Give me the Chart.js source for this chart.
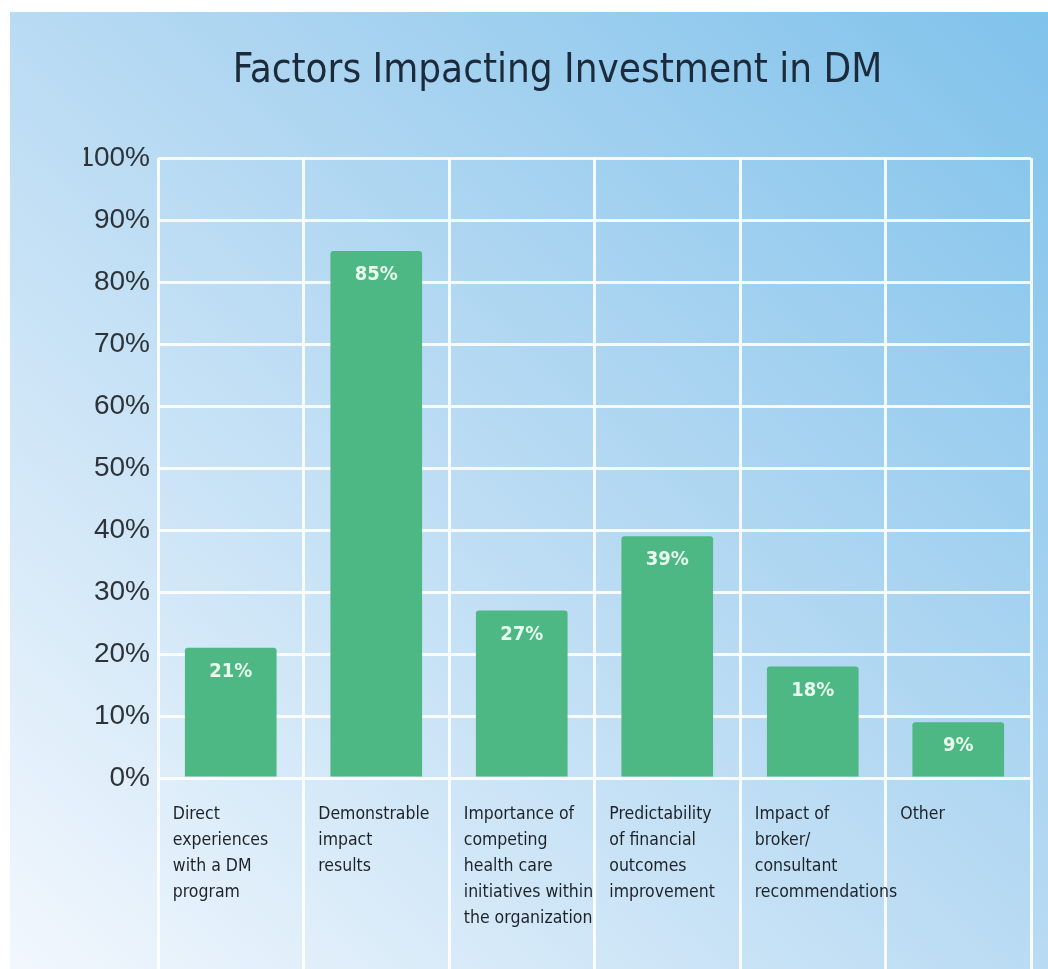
<!DOCTYPE html>
<html>
<head>
<meta charset="utf-8">
<script src="https://cdn.jsdelivr.net/npm/chart.js@4"></script>
<style>
  html, body { margin: 0; padding: 0; background: #fff; }
  #wrap { position: relative; width: 1048px; height: 969px; overflow: hidden; }
  #panel {
    position: absolute; left: 10px; top: 12px; right: 0; bottom: 0;
    background: linear-gradient(to top right, #f2f7fd 0%, #cfe6f7 30%, #b3d8f2 55%, #80c2eb 100%);
  }
  #chart { position: absolute; left: 0; top: 0; }
</style>
</head>
<body>
<div id="wrap">
  <div id="panel"></div>
  <canvas id="chart" width="1048" height="969"></canvas>
</div>
<script>
// data
const categories = [
    ['Direct', 'experiences', 'with a DM', 'program'],
    ['Demonstrable', 'impact', 'results'],
    ['Importance of', 'competing', 'health care', 'initiatives within', 'the organization'],
    ['Predictability', 'of financial', 'outcomes', 'improvement'],
    ['Impact of', 'broker/', 'consultant', 'recommendations'],
    ['Other']
];
const values = [21, 85, 27, 39, 18, 9];
const yTickValues = [0, 10, 20, 30, 40, 50, 60, 70, 80, 90, 100];

const condensed = '"DejaVu Sans Condensed", "Liberation Sans Narrow", sans-serif';
const gridColor = 'rgba(255, 255, 255, 0.88)';

// draws the percentage inside the top of each bar
const valueLabels = {
    id: 'valueLabels',
    afterDatasetsDraw(chart) {
        const ctx = chart.ctx;
        const meta = chart.getDatasetMeta(0);
        ctx.save();
        ctx.fillStyle = '#e9fbef';
        ctx.font = 'bold 20px ' + condensed;
        ctx.textAlign = 'center';
        ctx.textBaseline = 'middle';
        meta.data.forEach((bar, i) => {
            ctx.fillText(values[i] + '%', bar.x, bar.y + 24);
        });
        ctx.restore();
    }
};

const ctx = document.getElementById('chart').getContext('2d');
new Chart(ctx, {
    type: 'bar',
    data: {
        labels: categories,
        datasets: [{
            data: values,
            backgroundColor: '#4db883',
            borderRadius: 3,
            borderSkipped: 'bottom',
            barPercentage: 0.63,
            categoryPercentage: 1.0
        }]
    },
    options: {
        responsive: false,
        animation: false,
        layout: { padding: { top: 0, right: 17, bottom: 0, left: 84 } },
        plugins: {
            legend: { display: false },
            tooltip: { enabled: false },
            title: {
                display: true,
                text: 'Factors Impacting Investment in DM',
                color: '#1c2b3c',
                font: { family: condensed, size: 40, weight: 'normal', lineHeight: 1.2 },
                padding: { top: 48, bottom: 62 }
            }
        },
        scales: {
            x: {
                afterFit: (scale) => { scale.height = 191; },
                grid: { offset: true, color: gridColor, lineWidth: 3, drawTicks: true, tickLength: 191 },
                border: { display: false },
                ticks: {
                    autoSkip: false,
                    maxRotation: 0,
                    minRotation: 0,
                    align: 'start',
                    labelOffset: -58,
                    padding: -168,
                    color: '#1e2328',
                    font: { family: condensed, size: 17.5, lineHeight: 1.49 }
                }
            },
            y: {
                min: 0,
                max: 100,
                afterBuildTicks: (scale) => { scale.ticks = yTickValues.map(v => ({ value: v })); },
                afterFit: (scale) => { scale.width = 74; },
                grid: { color: gridColor, lineWidth: 3, drawTicks: false },
                border: { display: false },
                ticks: {
                    padding: 8,
                    color: '#2e3338',
                    font: { family: '"Liberation Sans", Arial, sans-serif', size: 28 },
                    callback: (v) => v + '%'
                }
            }
        }
    },
    plugins: [valueLabels]
});
</script>
</body>
</html>
